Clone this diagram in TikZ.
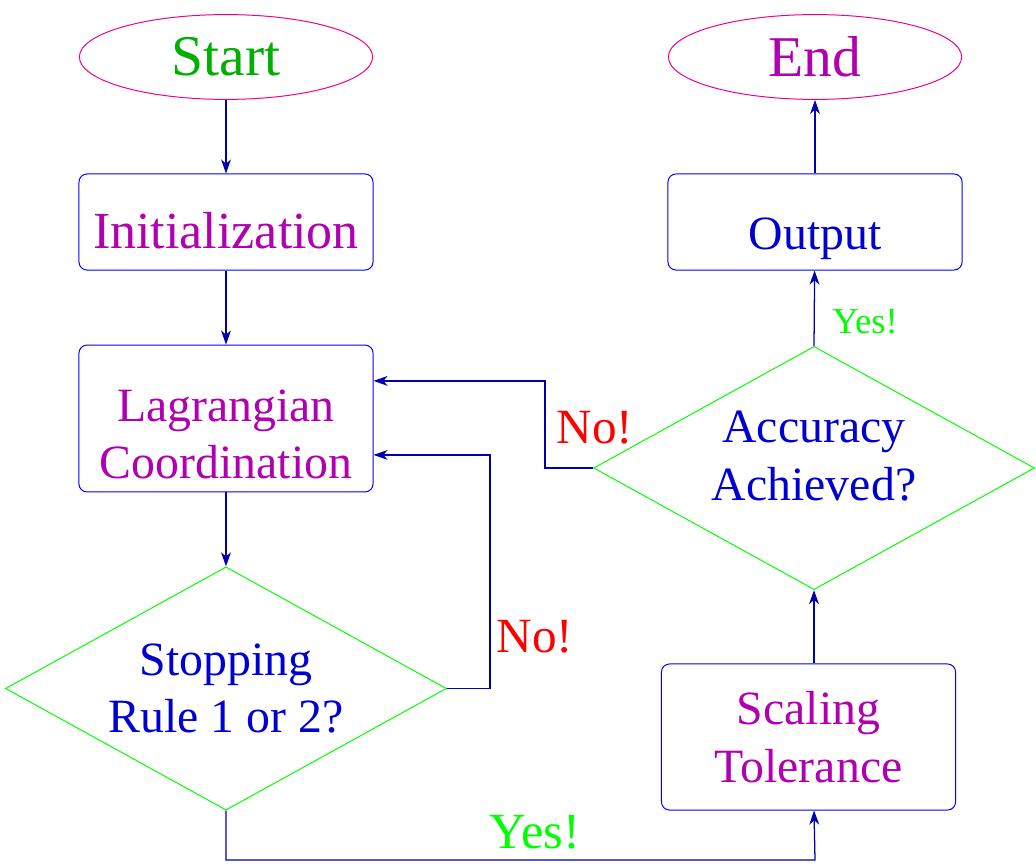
\documentclass[tikz,border=0pt]{standalone}
\usepackage{fontspec}
\setmainfont{Liberation Serif}
\usetikzlibrary{shapes.geometric,arrows.meta}
\definecolor{startgreen}{RGB}{0,176,0}
\definecolor{boxmagenta}{RGB}{176,0,176}
\definecolor{textblue}{RGB}{0,0,208}
\definecolor{linkblue}{RGB}{0,0,176}
\definecolor{yesgreen}{RGB}{0,255,0}
\newcommand{\shiftlines}[2]{\raisebox{#1}[\height][\depth]{\begin{tabular}{@{}c@{}}#2\end{tabular}}}
\begin{document}
\begin{tikzpicture}[x=0.025cm,y=-0.025cm]
        \tikzset{
            big/.style={font=\fontsize{34}{41}\selectfont},
            term/.style={draw=magenta,line width=0.7pt,shape=ellipse,minimum width=7.33cm,minimum height=2.12cm,inner sep=0pt,font=\fontsize{41}{48}\selectfont},
            stepbox/.style={draw=blue,line width=0.7pt,rounded corners=0.2cm,minimum width=7.35cm,inner sep=0pt,big,align=center},
            test/.style={draw=yesgreen,line width=0.7pt,shape=diamond,aspect=1.8,minimum width=11.02cm,minimum height=6.08cm,inner sep=0pt,big,align=center,text=textblue},
            flow/.style={draw=linkblue,line width=0.9pt,-{Stealth[length=10pt,width=7pt,inset=3pt]}},
            answer/.style={font=\fontsize{35}{41}\selectfont}
        }
        \useasboundingbox (0,0) rectangle (1036,865);

        \node[term,text=startgreen] (start) at (226,57) {Start};
        \node[term,text=boxmagenta] (end) at (815,57) {End};
        \node[stepbox,minimum height=2.4cm,text=boxmagenta,font=\fontsize{37}{44}\selectfont] (init) at (226,222) {\shiftlines{-0.35cm}{Initialization}};
        \node[stepbox,minimum height=3.67cm,text=boxmagenta] (lag) at (226,418.5) {\shiftlines{-0.5cm}{Lagrangian\\Coordination}};
        \node[stepbox,minimum height=2.4cm,text=textblue] (out) at (815,222) {\shiftlines{-0.4cm}{Output}};
        \node[stepbox,minimum height=3.65cm,text=boxmagenta] (scale) at (808.5,737) {Scaling\\Tolerance};
        \node[test] (stop) at (226,688.5) {Stopping\\Rule 1 or 2?};
        \node[test] (acc) at (814,468) {\shiftlines{0.2cm}{Accuracy\\Achieved?}};

        \draw[flow] (start) -- (init);
        \draw[flow] (init) -- (lag);
        \draw[flow] (lag) -- (stop);
        \draw[flow] (stop.east) -- (490,688.5) |- ([yshift=-0.91cm]lag.east);
        \draw[flow] (stop.south) |- (815,860) -- (acc.south |- scale.south);
        \draw[flow] (acc.south |- scale.north) -- (acc.south);
        \draw[flow] (acc.west) -- (545,468) |- ([yshift=0.94cm]lag.east);
        \draw[flow] (acc.north) -- (out);
        \draw[flow] (out) -- (end);

        \node[answer,text=red] (no1) at (535,637) {No!};
        \node[answer,text=red] (no2) at (595,428) {No!};
        \node[answer,text=yesgreen,font=\fontsize{36}{41}\selectfont] (yes1) at (535,832) {Yes!};
        \node[text=yesgreen,font=\fontsize{26}{30}\selectfont] (yes2) at (865,322) {Yes!};
\end{tikzpicture}
\end{document}
